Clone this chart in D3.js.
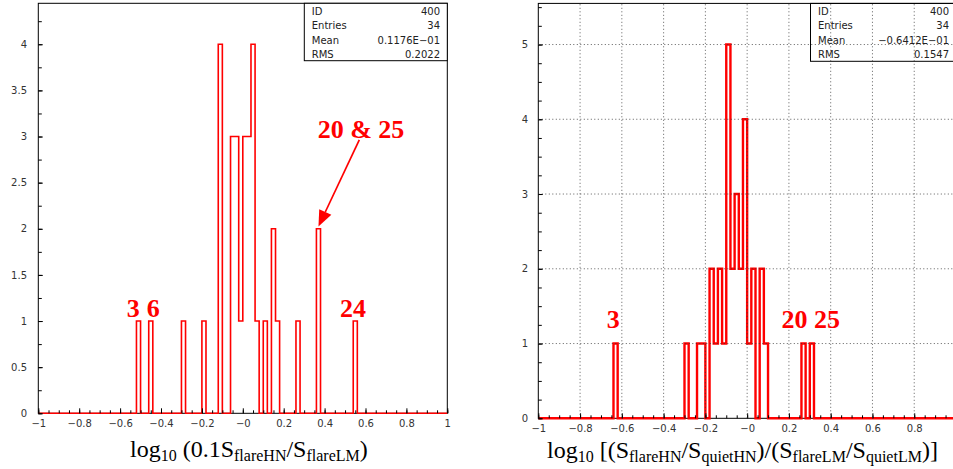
<!DOCTYPE html>
<html>
<head>
<meta charset="utf-8">
<script src="https://cdn.jsdelivr.net/npm/d3@7"></script>
<style>
body { margin: 0; background: #fff; }
svg { display: block; }
.tick text { font-family: "DejaVu Sans", sans-serif; font-size: 10px; fill: #333; }
.tick line { stroke: #000; }
</style>
</head>
<body>
<script>
// histograms, 100 bins of 0.02 from -1 to 1; only non-empty bins listed (low edge, entries)
const binWidth = 0.02;
const leftEdges  = [-0.52, -0.46, -0.30, -0.20, -0.12, -0.06, -0.04, -0.02, 0.00, 0.02, 0.04, 0.06, 0.10, 0.14, 0.16, 0.26, 0.36, 0.54];
const leftCounts = [1, 1, 1, 1, 4, 3, 3, 1, 3, 3, 4, 1, 1, 2, 1, 1, 2, 1];

const rightEdges  = [-0.64, -0.30, -0.24, -0.22, -0.18, -0.16, -0.14, -0.12, -0.10, -0.08, -0.06, -0.04, -0.02, 0.00, 0.02, 0.06, 0.08, 0.26, 0.30];
const rightCounts = [1, 1, 1, 1, 2, 1, 2, 1, 5, 2, 3, 2, 4, 1, 2, 2, 1, 1, 1];

// stats boxes
const statLabels = ['ID', 'Entries', 'Mean', 'RMS'];
const leftStats  = ['400', '34', '0.1176E\u221201', '0.2022'];
const rightStats = ['400', '34', '\u22120.6412E\u221201', '0.1547'];

// tick values
const xMajor = d3.range(-5, 6).map(d => d / 5);
const xMinor = d3.range(-20, 21).map(d => d / 20);
const leftYMajor = d3.range(0, 9).map(d => d / 2);
const leftYMinor = d3.range(0, 18).map(d => d / 4);
const rightYMajor = d3.range(0, 6);
const rightYMinor = d3.range(0, 23).map(d => d / 4);

const svg = d3.select('body').append('svg')
  .attr('width', 953)
  .attr('height', 469);

const fmtX = d => d === 0 ? '\u22120' : (d < 0 ? '\u2212' + (-d) : String(d));

function fullBins(edges, counts) {
  const arr = new Array(100).fill(0);
  edges.forEach((e, i) => { arr[Math.round((e + 1) / binWidth)] = counts[i]; });
  return arr;
}

function drawPanel(o) {
  const g = svg.append('g');
  const x = d3.scaleLinear().domain([-1, 1]).range(o.xr);
  const y = d3.scaleLinear().domain([0, o.ymax]).range(o.yr);

  // frame
  g.append('rect')
    .attr('x', o.xr[0]).attr('y', o.yr[1])
    .attr('width', o.xr[1] - o.xr[0]).attr('height', o.yr[0] - o.yr[1])
    .attr('fill', 'none').attr('stroke', '#000').attr('stroke-width', 1);

  // histogram as a step line
  const bins = fullBins(o.edges, o.counts);
  const pts = bins.map((c, i) => [-1 + i * binWidth, c]);
  pts.push([1, bins[bins.length - 1]]);
  g.append('path')
    .datum(pts)
    .attr('fill', 'none')
    .attr('stroke', '#ff0000')
    .attr('stroke-width', o.lw)
    .attr('d', d3.line().x(d => x(d[0])).y(d => y(d[1])).curve(d3.curveStepAfter));

  // axes (ticks point into the frame)
  g.append('g')
    .attr('transform', `translate(0,${o.yr[0]})`)
    .call(d3.axisBottom(x).tickValues(xMinor).tickSizeInner(-3).tickSizeOuter(0).tickFormat(''))
    .call(a => a.select('.domain').remove());
  g.append('g')
    .attr('transform', `translate(0,${o.yr[0]})`)
    .call(d3.axisBottom(x).tickValues(xMajor).tickSizeInner(-5).tickSizeOuter(0).tickPadding(6.5)
      .tickFormat(d => d <= o.xLabelMax ? fmtX(d) : ''))
    .call(a => a.select('.domain').remove());
  g.append('g')
    .attr('transform', `translate(${o.xr[0]},0)`)
    .call(d3.axisLeft(y).tickValues(o.yMinor).tickSizeInner(-3.5).tickSizeOuter(0).tickFormat(''))
    .call(a => a.select('.domain').remove());
  g.append('g')
    .attr('transform', `translate(${o.xr[0]},0)`)
    .call(d3.axisLeft(y).tickValues(o.yMajor).tickSizeInner(-4.5).tickSizeOuter(0).tickPadding(o.ypad).tickFormat(d => String(d)))
    .call(a => a.select('.domain').remove());

  // stats box
  g.append('rect')
    .attr('x', o.boxX).attr('y', o.yr[1])
    .attr('width', o.xr[1] - o.boxX).attr('height', o.boxB - o.yr[1])
    .attr('fill', o.boxFill).attr('stroke', '#000').attr('stroke-width', 1);
  const rowY = [14.8, 29.2, 43.6, 57.6];
  g.selectAll('.slab').data(statLabels).enter().append('text')
    .attr('x', o.boxX + 7.5).attr('y', (d, i) => rowY[i])
    .attr('font-family', 'DejaVu Sans, sans-serif').attr('font-size', 10).attr('fill', '#222')
    .text(d => d);
  g.selectAll('.sval').data(o.stats).enter().append('text')
    .attr('x', o.valX).attr('y', (d, i) => rowY[i])
    .attr('text-anchor', 'end')
    .attr('font-family', 'DejaVu Sans, sans-serif').attr('font-size', 10).attr('fill', '#222')
    .text(d => d);

  // grid (right panel only), drawn over everything
  if (o.grid) {
    g.selectAll('.gx').data(xMajor.filter(d => d > -1)).enter().append('line')
      .attr('x1', d => x(d)).attr('x2', d => x(d))
      .attr('y1', o.yr[0]).attr('y2', o.yr[1])
      .attr('stroke', '#333').attr('stroke-width', 0.8).attr('stroke-dasharray', '1,2.5');
    g.selectAll('.gy').data(o.yMajor.filter(d => d > 0)).enter().append('line')
      .attr('y1', d => y(d)).attr('y2', d => y(d))
      .attr('x1', o.xr[0]).attr('x2', o.xr[1])
      .attr('stroke', '#333').attr('stroke-width', 0.8).attr('stroke-dasharray', '1,2.5');
  }

  // axis title
  const t = g.append('text')
    .attr('x', o.titleX).attr('y', o.titleY)
    .attr('font-family', 'Liberation Serif, Times New Roman, serif')
    .attr('font-size', 24).attr('fill', '#000');
  o.title.forEach(p => {
    t.append('tspan')
      .attr('font-size', p.sub ? 16 : 24)
      .attr('dy', p.sub ? 3.5 : (p.back ? -3.5 : 0))
      .text(p.s);
  });

  return { x, y, g };
}

const L = drawPanel({
  xr: [38.3, 447.3], yr: [413.3, 3.3], ymax: 4.444,
  edges: leftEdges, counts: leftCounts, lw: 1.6, xLabelMax: 1,
  yMajor: leftYMajor, yMinor: leftYMinor, ypad: 11.3,
  boxX: 304.3, boxB: 60.7, boxFill: '#fff', valX: 440, stats: leftStats,
  grid: false,
  titleX: 130, titleY: 457,
  title: [
    { s: 'log' }, { s: '10', sub: true }, { s: ' (0.1S', back: true },
    { s: 'flareHN', sub: true }, { s: '/S', back: true },
    { s: 'flareLM', sub: true }, { s: ')', back: true }
  ]
});

const R = drawPanel({
  xr: [538.3, 956], yr: [418.3, 3.4], ymax: 5.55,
  edges: rightEdges, counts: rightCounts, lw: 2.4, xLabelMax: 0.8,
  yMajor: rightYMajor, yMinor: rightYMinor, ypad: 10.3,
  boxX: 810.5, boxB: 61.3, boxFill: 'none', valX: 949, stats: rightStats,
  grid: true,
  titleX: 547, titleY: 458,
  title: [
    { s: 'log' }, { s: '10', sub: true }, { s: ' [(S', back: true },
    { s: 'flareHN', sub: true }, { s: '/S', back: true },
    { s: 'quietHN', sub: true }, { s: ')/(S', back: true },
    { s: 'flareLM', sub: true }, { s: '/S', back: true },
    { s: 'quietLM', sub: true }, { s: ')]', back: true }
  ]
});

// event-number annotations
function note(P, xv, yv, s) {
  P.g.append('text')
    .attr('x', P.x(xv)).attr('y', P.y(yv))
    .attr('text-anchor', 'middle')
    .attr('font-family', 'Liberation Serif, Times New Roman, serif')
    .attr('font-weight', 'bold').attr('font-size', 26).attr('fill', '#ff0000')
    .text(s);
}
note(L, -0.5355, 1.04, '3');
note(L, -0.4377, 1.04, '6');
note(L, 0.539, 1.04, '24');
note(L, 0.578, 2.984, '20 & 25');
note(R, -0.641, 1.204, '3');
note(R, 0.305, 1.204, '20 25');

// arrow pointing at the 0.36-0.38 bin
const a0 = [L.x(0.5697), L.y(2.963)], a1 = [L.x(0.37), L.y(2.025)];
const ang = Math.atan2(a1[1] - a0[1], a1[0] - a0[0]);
const hl = 16, hw = 6.7;
const bx = a1[0] - hl * Math.cos(ang), by = a1[1] - hl * Math.sin(ang);
L.g.append('line')
  .attr('x1', a0[0]).attr('y1', a0[1]).attr('x2', bx).attr('y2', by)
  .attr('stroke', '#ff0000').attr('stroke-width', 1.7);
L.g.append('path')
  .attr('d', `M${a1[0]},${a1[1]}L${bx - hw * Math.sin(ang)},${by + hw * Math.cos(ang)}L${bx + hw * Math.sin(ang)},${by - hw * Math.cos(ang)}Z`)
  .attr('fill', '#ff0000');
</script>
</body>
</html>
